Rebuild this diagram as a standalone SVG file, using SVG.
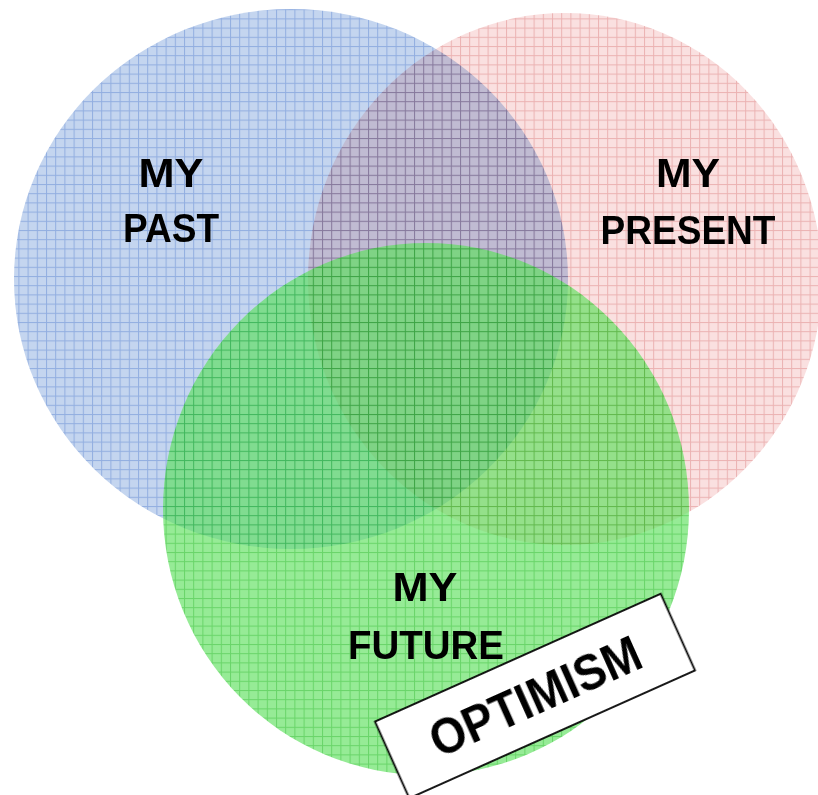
<svg xmlns="http://www.w3.org/2000/svg" width="818" height="795" viewBox="0 0 818 795">
<defs>
<pattern id="pBlue" patternUnits="userSpaceOnUse" width="9.2" height="9.2">
<rect width="9.2" height="9.2" fill="#c4d5ef"/>
<rect x="0" y="0" width="9.2" height="1" fill="#92aee0"/>
<rect x="0" y="0" width="1" height="9.2" fill="#92aee0"/>
</pattern>
<pattern id="pRed" patternUnits="userSpaceOnUse" width="9.2" height="9.2">
<rect width="9.2" height="9.2" fill="#fae0e0"/>
<rect x="0" y="0" width="9.2" height="1" fill="#ebb2b2"/>
<rect x="0" y="0" width="1" height="9.2" fill="#ebb2b2"/>
</pattern>
<pattern id="pGreen" patternUnits="userSpaceOnUse" width="9.2" height="9.2">
<rect width="9.2" height="9.2" fill="#5ae05a"/>
<rect x="0" y="0" width="9.2" height="1" fill="#14bc14"/>
<rect x="0" y="0" width="1" height="9.2" fill="#14bc14"/>
</pattern>
</defs>
<style>
.lbl{font-family:"Liberation Sans",Arial,sans-serif;font-weight:bold;font-size:41px;fill:#000;text-anchor:middle}
.blend{mix-blend-mode:multiply}
.box{fill:#fff;stroke:#000;stroke-width:1.8}
</style>
<g id="past">
<ellipse cx="291" cy="279" rx="277" ry="270" fill="url(#pBlue)"/>
<text class="lbl" x="171" y="187" textLength="65" lengthAdjust="spacingAndGlyphs">MY</text>
<text class="lbl" x="171" y="242" textLength="96" lengthAdjust="spacingAndGlyphs">PAST</text>
</g>
<g id="present" class="blend">
<ellipse cx="565" cy="279" rx="257" ry="266" fill="url(#pRed)"/>
<text class="lbl" x="688" y="187" textLength="64" lengthAdjust="spacingAndGlyphs">MY</text>
<text class="lbl" x="688" y="244" textLength="175" lengthAdjust="spacingAndGlyphs">PRESENT</text>
</g>
<g id="future">
<ellipse cx="426" cy="509" rx="263" ry="266" fill="url(#pGreen)" opacity="0.64"/>
<text class="lbl" x="425" y="601" textLength="65" lengthAdjust="spacingAndGlyphs">MY</text>
<text class="lbl" x="426" y="659" textLength="156" lengthAdjust="spacingAndGlyphs">FUTURE</text>
</g>
<g id="optimism" transform="translate(535,696) rotate(-24.1)">
<rect class="box" x="-156.5" y="-42" width="313" height="84"/>
<text class="lbl" x="0" y="18" style="font-size:50px" textLength="226" lengthAdjust="spacingAndGlyphs">OPTIMISM</text>
</g>
<g id="connectors"/>
</svg>
